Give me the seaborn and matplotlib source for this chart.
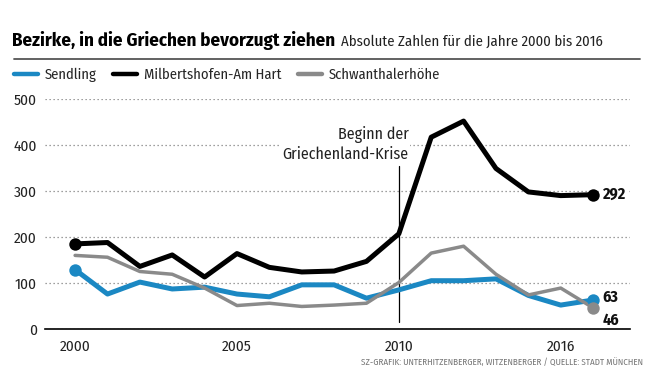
import matplotlib
matplotlib.use("Agg")
import matplotlib.pyplot as plt
import seaborn as sns
import pandas as pd
from matplotlib import font_manager as fm

# ---- data ----
years = list(range(2000, 2017))
sendling = [129, 76, 102, 87, 91, 76, 70, 96, 96, 67, 85, 105, 105, 109, 73, 52, 63]
milbertshofen = [185, 188, 136, 161, 113, 164, 134, 124, 126, 147, 207, 417, 452, 349, 298, 290, 292]
schwanthalerhoehe = [160, 156, 125, 119, 89, 51, 56, 49, 52, 56, 101, 165, 180, 119, 74, 89, 46]
series_names = ["Sendling", "Milbertshofen-Am Hart", "Schwanthalerhöhe"]
end_labels = ["63", "292", "46"]
x_tick_pos = [2000, 2005, 2010, 2015]
x_tick_labels = ["2000", "2005", "2010", "2016"]
y_ticks = [0, 100, 200, 300, 400, 500]
crisis_year = 2010

colors = {"Sendling": "#1b88c3", "Milbertshofen-Am Hart": "#000000", "Schwanthalerhöhe": "#8a8a8a"}
widths = {"Sendling": 3.6, "Milbertshofen-Am Hart": 3.6, "Schwanthalerhöhe": 2.5}

df = pd.DataFrame({
    "Jahr": years * 3,
    "Wert": sendling + milbertshofen + schwanthalerhoehe,
    "Bezirk": [series_names[0]] * len(years) + [series_names[1]] * len(years) + [series_names[2]] * len(years),
})

sns.set_theme(style="white")
names = {f.name for f in fm.fontManager.ttflist}
cond = "DejaVu Sans"
for cand in ["Fira Sans Condensed", "Roboto Condensed", "PT Sans Narrow", "Asap Condensed", "Barlow Semi Condensed"]:
    if cand in names:
        cond = cand
        break
plt.rcParams["font.family"] = [cond, "DejaVu Sans"]

W, H = 658, 389
fig = plt.figure(figsize=(W / 100, H / 100), dpi=100)
ax = fig.add_axes([45 / W, 60 / H, 585 / W, 230 / H])

sns.lineplot(data=df, x="Jahr", y="Wert", hue="Bezirk", palette=colors, ax=ax,
             linewidth=3.6, legend=True)
for line, name in zip(ax.get_lines(), series_names):
    line.set_linewidth(widths[name])
    line.set_clip_on(False)
    line.set_solid_joinstyle("round")

# end markers
first = df[(df["Jahr"] == years[0]) & (df["Bezirk"] != "Schwanthalerhöhe")]
last = df[df["Jahr"] == years[-1]]
for sub in (first, last):
    for _, r in sub.iterrows():
        ax.scatter(r["Jahr"], r["Wert"], s=80, color=colors[r["Bezirk"]], zorder=5, clip_on=False, linewidths=0)

for name, vals, lab, dy in zip(series_names, [sendling, milbertshofen, schwanthalerhoehe], end_labels, [2, 0, -9]):
    ax.annotate(lab, (years[-1], vals[-1]), xytext=(7, dy), textcoords="offset points",
                fontsize=11.5, fontweight="bold", va="center", ha="left", color="#111111",
                bbox=dict(boxstyle="square,pad=0.15", fc="white", ec="none"), zorder=6)

# crisis marker
ax.plot([crisis_year, crisis_year], [15, 355], color="#000000", lw=0.9, zorder=1)
ax.text(crisis_year + 0.3, 363, "Beginn der\nGriechenland-Krise", ha="right", va="bottom",
        fontsize=11.5, linespacing=1.25, color="#222222",
        bbox=dict(boxstyle="square,pad=0.1", fc="white", ec="none"), zorder=1.5)

ax.set_xlim(1999.07, 2017.14)
ax.set_ylim(0, 500)
ax.set_yticks(y_ticks)
ax.set_xticks(x_tick_pos)
ax.set_xticklabels(x_tick_labels)
ax.set_xlabel("")
ax.set_ylabel("")
ax.grid(axis="y", linestyle=(0, (1, 2.2)), color="#808080", linewidth=0.9)
ax.grid(axis="x", visible=False)
ax.set_axisbelow(True)
for s in ["top", "right", "left"]:
    ax.spines[s].set_visible(False)
ax.spines["bottom"].set_color("#000000")
ax.spines["bottom"].set_linewidth(1.2)
ax.spines["bottom"].set_zorder(7)
ax.tick_params(axis="x", direction="inout", length=7, width=1, colors="#000000", labelsize=11, pad=4, labelcolor="#222222")
ax.tick_params(axis="y", length=0, labelsize=11, pad=6, labelcolor="#222222")
for t in ax.get_yticklabels():
    t.set_horizontalalignment("right")

sns.move_legend(ax, "center left", bbox_to_anchor=(14 / W, 1 - 75 / H), bbox_transform=fig.transFigure,
                ncol=3, frameon=False, title=None, fontsize=10.5, handlelength=1.65, columnspacing=1.1,
                handletextpad=0.48, borderaxespad=0, borderpad=0)
for h in ax.get_legend().legend_handles:
    h.set_linewidth(3.2)

# title with width fitting
fig.canvas.draw()
r = fig.canvas.get_renderer()
t1 = fig.text(12 / W, 1 - 46 / H, "Bezirke, in die Griechen bevorzugt ziehen", fontsize=14,
              fontweight="bold", va="baseline", ha="left", color="#000000")
w = t1.get_window_extent(r).width
t1.set_fontsize(min(17, 14 * 325 / w))
bb = t1.get_window_extent(r)
t2 = fig.text((bb.x1 + 6) / W, 1 - 46 / H, "Absolute Zahlen für die Jahre 2000 bis 2016", fontsize=11,
              va="baseline", ha="left", color="#222222")
w2 = t2.get_window_extent(r).width
t2.set_fontsize(min(13, 11 * (602 - bb.x1 - 6) / w2))
fig.add_artist(plt.Line2D([14 / W, 640 / W], [1 - 58.5 / H] * 2, color="#555555", lw=1.3))

fig.text(643 / W, 1 - 362 / H, "SZ-GRAFIK: UNTERHITZENBERGER, WITZENBERGER / QUELLE: STADT MÜNCHEN",
         fontsize=6.5, ha="right", va="center", color="#777777")

fig.savefig("out.png", dpi=100)
